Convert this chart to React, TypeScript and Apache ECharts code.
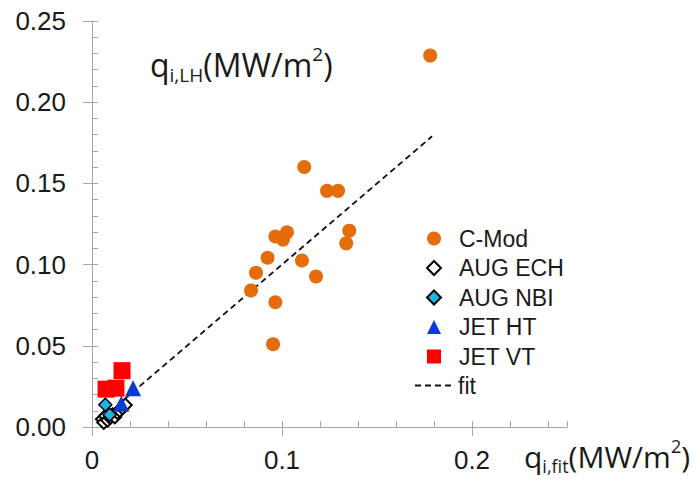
import React, { useEffect, useRef } from 'react';
import * as echarts from 'echarts';

// ---- data ----
const cmodX = [0.1117, 0.1237, 0.1295, 0.0965, 0.1026, 0.1005, 0.1354, 0.1338, 0.0924, 0.1105, 0.0863, 0.1179, 0.0837, 0.0965, 0.0953, 0.178];
const cmodY = [0.1601, 0.1454, 0.1454, 0.1173, 0.1199, 0.1154, 0.1209, 0.1131, 0.1042, 0.1025, 0.095, 0.0927, 0.0841, 0.0768, 0.051, 0.2287];
const augEchX = [0.0055, 0.0062, 0.0072, 0.0082, 0.0095, 0.0108, 0.012, 0.0133, 0.0146, 0.016, 0.0175];
const augEchY = [0.0048, 0.0028, 0.0068, 0.0042, 0.0058, 0.0075, 0.0062, 0.009, 0.0102, 0.0118, 0.0135];
const augNbiX = [0.007, 0.0093];
const augNbiY = [0.0137, 0.0075];
const jetHtX = [0.0216, 0.0154];
const jetHtY = [0.0239, 0.0143];
const jetVtX = [0.0158, 0.0074, 0.0126];
const jetVtY = [0.0347, 0.0233, 0.0239];
const fitX = [0.005, 0.179];
const fitY = [0.005, 0.179];

const xTickValues = [0, 0.1, 0.2];
const xTickLabels = ['0', '0.1', '0.2'];
const yTickValues = [0, 0.05, 0.1, 0.15, 0.2, 0.25];
const yTickLabels = ['0.00', '0.05', '0.10', '0.15', '0.20', '0.25'];
const markerLegendNames = ['C-Mod', 'AUG ECH', 'AUG NBI', 'JET HT', 'JET VT'];
const lineLegendNames = ['fit'];

const zip = (xs: number[], ys: number[]) => xs.map((x, i) => [x, ys[i]]);
const lookup = (vals: number[], labels: string[], v: number) => {
  const i = vals.findIndex((t) => Math.abs(t - v) < 1e-9);
  return i >= 0 ? labels[i] : '';
};

export default function App() {
  const ref = useRef<HTMLDivElement>(null);
  useEffect(() => {
    const chart = echarts.init(ref.current!, null, { renderer: 'svg' });
    const gray = '#a6a6a6';
    const ink = '#1a1a1a';
    const tickFont = { fontFamily: 'Liberation Sans', fontSize: 26, color: ink };
    const titleFont = 'Open Sans';
    const makeRich = (main: number, small: number) => ({
      m: { fontFamily: titleFont, fontSize: main, fontWeight: 'normal', lineHeight: main + 8, color: ink },
      s: { fontFamily: titleFont, fontSize: small, fontWeight: 'normal', lineHeight: small + 1, verticalAlign: 'bottom', color: ink },
      p: { fontFamily: titleFont, fontSize: small, fontWeight: 'normal', lineHeight: small + 10, verticalAlign: 'top', color: ink },
    });
    const legendText = { fontFamily: 'Liberation Sans', fontSize: 23, lineHeight: 23, color: ink };
    chart.setOption({
      animation: false,
      backgroundColor: '#ffffff',
      title: [
        { left: 145, top: 39, text: '{m|q}{s|i,LH}{m|(MW/m}{p|2}{m|)}', textStyle: { fontWeight: 'normal', rich: makeRich(32, 19) } },
        { left: 519, top: 432, text: '{m|q}{s|i,fit}{m|(MW/m}{p|2}{m|)}', textStyle: { fontWeight: 'normal', rich: makeRich(30, 18) } },
      ],
      grid: { left: 92, top: 21, width: 475, height: 406 },
      legend: [
        {
          orient: 'vertical',
          left: 426,
          top: 227,
          padding: 0,
          itemWidth: 14,
          itemHeight: 14,
          itemGap: 6.5,
          symbolKeepAspect: true,
          selectedMode: false,
          textStyle: { ...legendText, padding: [0, 0, 0, 13] },
          data: markerLegendNames,
        },
        {
          orient: 'vertical',
          left: 414,
          top: 374,
          padding: 0,
          itemWidth: 38,
          itemHeight: 14,
          selectedMode: false,
          itemStyle: { opacity: 0 },
          textStyle: legendText,
          data: lineLegendNames,
        },
      ],
      xAxis: [
        {
          type: 'value', min: 0, max: 0.25, position: 'bottom',
          axisLine: { onZero: false, lineStyle: { color: gray, width: 1 } },
          axisTick: { show: true, inside: false, length: 9, customValues: xTickValues, lineStyle: { color: gray } },
          axisLabel: { ...tickFont, margin: 20, customValues: xTickValues, formatter: (v: number) => lookup(xTickValues, xTickLabels, v) },
          splitLine: { show: false },
        },
        {
          type: 'value', min: 0, max: 0.25, interval: 0.02, position: 'bottom',
          axisLine: { show: false, onZero: false },
          axisTick: { show: true, inside: true, length: 6, lineStyle: { color: gray } },
          axisLabel: { show: false },
          splitLine: { show: false },
        },
      ],
      yAxis: [
        {
          type: 'value', min: 0, max: 0.25, interval: 0.05, position: 'left',
          axisLine: { show: true, onZero: false, lineStyle: { color: gray, width: 1 } },
          axisTick: { show: true, inside: false, length: 9, lineStyle: { color: gray } },
          axisLabel: { ...tickFont, margin: 26, formatter: (v: number) => lookup(yTickValues, yTickLabels, v) },
          splitLine: { show: false },
        },
        {
          type: 'value', min: 0, max: 0.25, interval: 0.01, position: 'left',
          axisLine: { show: false, onZero: false },
          axisTick: { show: true, inside: true, length: 6, lineStyle: { color: gray } },
          axisLabel: { show: false },
          splitLine: { show: false },
        },
      ],
      series: [
        {
          name: 'fit', type: 'line', data: zip(fitX, fitY), symbol: 'none',
          lineStyle: { color: '#111111', width: 1.8, type: [6, 4] },
          itemStyle: { color: '#111111' }, z: 1,
        },
        { name: 'C-Mod', type: 'scatter', data: zip(cmodX, cmodY), symbol: 'circle', symbolSize: 14, itemStyle: { color: '#E46C0A', opacity: 1 }, z: 2 },
        { name: 'AUG ECH', type: 'scatter', data: zip(augEchX, augEchY), symbol: 'diamond', symbolSize: 13, itemStyle: { color: '#ffffff', borderColor: '#000000', borderWidth: 2, opacity: 1 }, z: 3 },
        { name: 'AUG NBI', type: 'scatter', data: zip(augNbiX, augNbiY), symbol: 'diamond', symbolSize: 13, itemStyle: { color: '#1FB4E6', borderColor: '#000000', borderWidth: 1.5, opacity: 1 }, z: 4 },
        { name: 'JET HT', type: 'scatter', data: zip(jetHtX, jetHtY), symbol: 'triangle', symbolSize: 16, itemStyle: { color: '#0B3BD0', opacity: 1 }, z: 5 },
        { name: 'JET VT', type: 'scatter', data: zip(jetVtX, jetVtY), symbol: 'rect', symbolSize: 17, itemStyle: { color: '#FF0000', opacity: 1 }, z: 6 },
      ],
    });
    return () => chart.dispose();
  }, []);
  return <div ref={ref} style={{ position: 'fixed', left: 0, top: 0, width: 696, height: 481 }} />;
}
